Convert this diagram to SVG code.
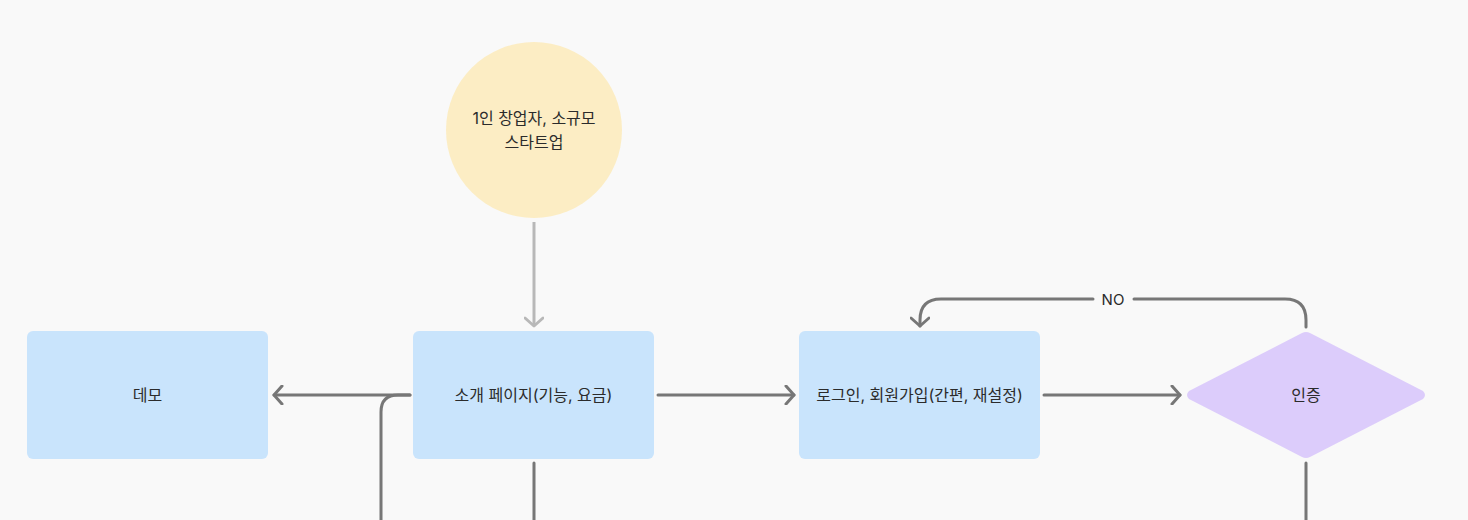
<svg xmlns="http://www.w3.org/2000/svg" width="1468" height="520" viewBox="0 0 1468 520">
<style>
.t{font-family:Inter,"Noto Sans CJK KR",sans-serif;font-size:16px;fill:#2b2b2b;text-anchor:middle;dominant-baseline:central}
.n{font-size:15px}
.box{fill:#c9e4fc}
.c{fill:none;stroke:#777;stroke-width:3;stroke-linecap:round}
.cl{fill:none;stroke:#b8b8b8;stroke-width:3}
</style>
<defs>
<marker id="ah" viewBox="0 0 20 20" refX="10" refY="10" markerWidth="20" markerHeight="20" markerUnits="userSpaceOnUse" orient="auto">
<path d="M2,1 L10,10 L2,19" fill="none" stroke="#777" stroke-width="3" stroke-linecap="round" stroke-linejoin="round"/>
</marker>
<marker id="ahl" viewBox="0 0 20 20" refX="10" refY="10" markerWidth="20" markerHeight="20" markerUnits="userSpaceOnUse" orient="auto">
<path d="M2,1 L10,10 L2,19" fill="none" stroke="#b8b8b8" stroke-width="3" stroke-linecap="round" stroke-linejoin="round"/>
</marker>
</defs>
<rect width="1468" height="520" fill="#f9f9f9"/>
<g id="connectors">
<path class="cl" d="M534,222 V326" marker-end="url(#ahl)"/>
<path class="c" d="M410,395 H274" marker-end="url(#ah)"/>
<path class="c" d="M410,395 H398 Q381,395 381,412 V522"/>
<path class="c" d="M534,463 V522"/>
<path class="c" d="M658,395 H794" marker-end="url(#ah)"/>
<path class="c" d="M1044,395 H1180" marker-end="url(#ah)"/>
<path class="c" d="M1306,327 V320 Q1306,299 1285,299 H1134"/>
<path class="c" d="M1093,299 H941 Q920,299 920,320 V326" marker-end="url(#ah)"/>
<text class="t n" x="1113" y="299">NO</text>
<path class="c" d="M1306,463 V522"/>
</g>
<g id="start">
<circle cx="534" cy="130" r="88" fill="#fcedc4"/>
<text class="t" x="534" y="118">1인 창업자, 소규모</text>
<text class="t" x="534" y="142">스타트업</text>
</g>
<g id="demo">
<rect class="box" x="27" y="331" width="241" height="128" rx="6"/>
<text class="t" x="147.5" y="395">데모</text>
</g>
<g id="intro">
<rect class="box" x="413" y="331" width="241" height="128" rx="6"/>
<text class="t" x="533.5" y="395">소개 페이지(기능, 요금)</text>
</g>
<g id="login">
<rect class="box" x="799" y="331" width="241" height="128" rx="6"/>
<text class="t" x="919.5" y="395">로그인, 회원가입(간편, 재설정)</text>
</g>
<g id="auth">
<path d="M1302,333 Q1306,331 1310,333 L1423,391 Q1427,395 1423,399 L1310,457 Q1306,459 1302,457 L1189,399 Q1185,395 1189,391 Z" fill="#dcccfb"/>
<text class="t" x="1306" y="395">인증</text>
</g>
</svg>
